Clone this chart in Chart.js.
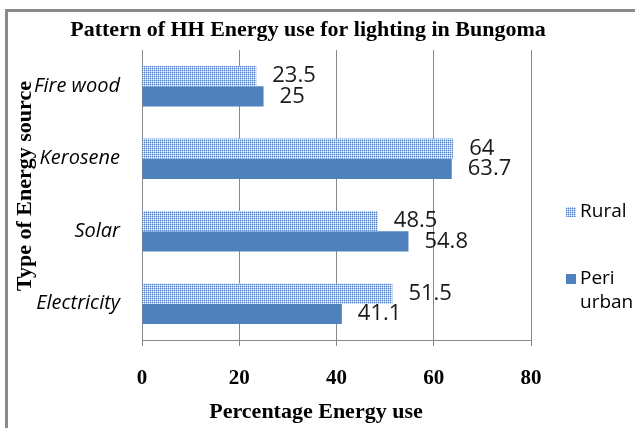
<!DOCTYPE html>
<html><head><meta charset="utf-8">
<script src="https://cdn.jsdelivr.net/npm/chart.js@4.4.1/dist/chart.umd.min.js"></script>
<style>html,body{margin:0;padding:0;background:#fff}#wrap{width:635px;height:428px;position:relative}</style>
</head><body><div id="wrap"><canvas id="c" width="635" height="428"></canvas></div>
<script>
const categories = ["Fire wood", "Kerosene", "Solar", "Electricity"];
const seriesNames = ["Rural", "Peri urban"];
const ruralValues = [23.5, 64, 48.5, 51.5];
const periUrbanValues = [25, 63.7, 54.8, 41.1];
const xTicks = [0, 20, 40, 60, 80];
const chartTitle = "Pattern of HH Energy use for lighting in Bungoma";
const xTitle = "Percentage Energy use";
const yTitle = "Type of Energy source";

function makePattern() {
  const p = document.createElement('canvas'); p.width = 4; p.height = 4;
  const g = p.getContext('2d');
  const rows = ['BLBL', 'LWLW', 'BLBL', 'LWLW'];
  const col = { B: '#5b89cc', L: '#a4c0ea', W: '#ffffff' };
  rows.forEach((r, y) => r.split('').forEach((c, x) => { g.fillStyle = col[c]; g.fillRect(x, y, 1, 1); }));
  return document.getElementById('c').getContext('2d').createPattern(p, 'repeat');
}

const decor = {
  id: 'decor',
  beforeDraw(chart) {
    const ctx = chart.ctx;
    ctx.save();
    ctx.fillStyle = '#fff'; ctx.fillRect(0, 0, chart.width, chart.height);
    ctx.fillStyle = '#8a8a8a';
    ctx.fillRect(5, 9, 635, 3);
    ctx.fillRect(5, 9, 3, 428);
    ctx.restore();
  },
  afterDraw(chart) {
    const ctx = chart.ctx;
    ctx.save();
    ctx.fillStyle = '#000';
    ctx.textAlign = 'center'; ctx.textBaseline = 'middle';
    ctx.font = 'bold 22px "Liberation Serif"';
    ctx.fillText(chartTitle, 308, 30);
    ctx.fillText(xTitle, 316, 412);
    ctx.save();
    ctx.translate(25, 186); ctx.rotate(-Math.PI / 2);
    ctx.fillText(yTitle, 0, 0);
    ctx.restore();
    // legend
    ctx.textAlign = 'left';
    ctx.font = '19px "Open Sans"';
    const ds = chart.data.datasets;
    ctx.fillStyle = ds[0].backgroundColor; ctx.fillRect(566, 207, 10, 10);
    ctx.fillStyle = '#000'; ctx.fillText(seriesNames[0], 580, 212);
    ctx.fillStyle = ds[1].backgroundColor; ctx.fillRect(566, 274, 10, 10);
    ctx.fillStyle = '#000';
    const parts = seriesNames[1].split(' ');
    ctx.fillText(parts[0], 580, 279);
    ctx.fillText(parts[1], 580, 303);
    // data labels
    ctx.font = '22px "Open Sans"';
    ctx.fillStyle = '#1a1a1a';
    chart.data.datasets.forEach((d, i) => {
      chart.getDatasetMeta(i).data.forEach((el, j) => {
        ctx.fillText(String(d.data[j]), el.x + 16, el.y);
      });
    });
    ctx.restore();
  }
};

function build() {
  const pattern = makePattern();
  new Chart(document.getElementById('c'), {
    type: 'bar',
    data: {
      labels: categories,
      datasets: [
        { label: seriesNames[0], data: ruralValues, backgroundColor: pattern, borderWidth: 0, categoryPercentage: 0.56, barPercentage: 1 },
        { label: seriesNames[1], data: periUrbanValues, backgroundColor: '#4f81bd', borderWidth: 0, categoryPercentage: 0.56, barPercentage: 1 }
      ]
    },
    options: {
      indexAxis: 'y', responsive: false, animation: false,
      layout: { padding: { left: 0, right: 104, top: 50, bottom: 0 } },
      plugins: { legend: { display: false }, title: { display: false }, tooltip: { enabled: false } },
      scales: {
        x: {
          min: 0, max: 80,
          afterBuildTicks: s => { s.ticks = xTicks.map(v => ({ value: v })); },
          grid: { color: '#878787', tickLength: 6, drawTicks: true },
          border: { color: '#878787' },
          ticks: { font: { family: 'Liberation Serif', weight: 'bold', size: 21 }, color: '#000', padding: 20 },
          afterFit: s => { s.height = 88; }
        },
        y: {
          grid: { display: false, drawTicks: false },
          border: { display: true, color: '#878787' },
          ticks: { font: { family: 'Open Sans', style: 'italic', size: 20 }, color: '#000', padding: 22 },
          afterFit: s => { s.width = 142; }
        }
      }
    },
    plugins: [decor]
  });
}
Promise.all([
  document.fonts.load('italic 20px "Open Sans"'),
  document.fonts.load('22px "Open Sans"'),
  document.fonts.load('bold 22px "Liberation Serif"')
]).then(build, build);
</script>
</body></html>
